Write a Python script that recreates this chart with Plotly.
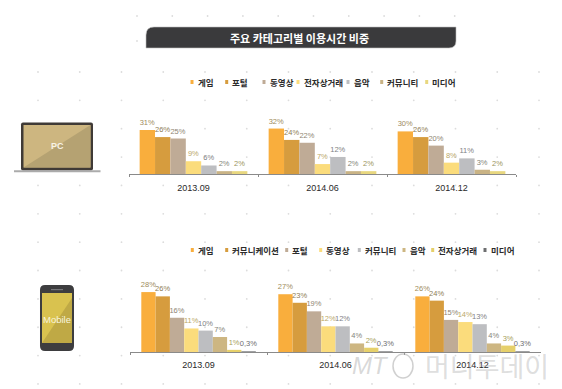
import plotly.graph_objects as go

W, H = 562, 389

periods = ["2013.09", "2014.06", "2014.12"]

pc_names = ["게임", "포털", "동영상", "전자상거래", "음악", "커뮤니티", "미디어"]
pc_game = [31, 32, 30]
pc_portal = [26, 24, 26]
pc_video = [25, 22, 20]
pc_commerce = [9, 7, 8]
pc_music = [6, 12, 11]
pc_community = [2, 2, 3]
pc_media = [2, 2, 2]
pc_values = [pc_game, pc_portal, pc_video, pc_commerce, pc_music, pc_community, pc_media]

mo_names = ["게임", "커뮤니케이션", "포털", "동영상", "커뮤니티", "음악", "전자상거래", "미디어"]
mo_game = [28, 27, 26]
mo_comm = [26, 23, 24]
mo_portal = [16, 19, 15]
mo_video = [11, 12, 14]
mo_community = [10, 12, 13]
mo_music = [7, 4, 4]
mo_commerce = [1, 2, 3]
mo_media = [0.3, 0.3, 0.3]
mo_values = [mo_game, mo_comm, mo_portal, mo_video, mo_community, mo_music, mo_commerce, mo_media]

pc_colors = ["#F9AE3D", "#D69C3E", "#BFAB96", "#FBDC7C", "#BDBEC1", "#C9B385", "#E8D77F"]
pc_label_colors = ["#A08C5C", "#8E7D55", "#8F8574", "#BBA868", "#808285", "#85857A", "#9A9560"]
mo_colors = ["#F9AE3D", "#D69C3E", "#BFAB96", "#FBDC7C", "#BDBEC1", "#CDB682", "#E6D06A", "#6D6E70"]
mo_label_colors = ["#A08C5C", "#8E7D55", "#8F8574", "#BBA868", "#808285", "#85857A", "#A8A060", "#6D6E70"]

pc_legend_x = [192, 226.7, 264, 298, 348, 381.7, 426.7]
mo_legend_x = [192.3, 226.7, 286.7, 320.7, 359.3, 404, 432.7, 485]

FONT = "Noto Sans CJK KR"
LATIN = "Liberation Sans"
CLEAR = "rgba(0,0,0,0)"


def fx(x):
    return x / W


def fy(y):
    return 1 - y / H


def path(*cmds):
    out = []
    for c in cmds:
        if isinstance(c, str):
            out.append(c)
        else:
            out.append(f"{fx(c[0]):.5f},{fy(c[1]):.5f}")
    return " ".join(out)


fig = go.Figure()

for i, (n, v) in enumerate(zip(pc_names, pc_values)):
    fig.add_bar(x=periods, y=v, name=n, marker_color=pc_colors[i],
                marker_line=dict(width=4, color=CLEAR),
                text=[f"{a}%" for a in v], textposition="outside", cliponaxis=False,
                textangle=0, constraintext="none",
                textfont=dict(size=7.5, color=pc_label_colors[i], family=LATIN),
                xaxis="x", yaxis="y", showlegend=False)
for i, (n, v) in enumerate(zip(mo_names, mo_values)):
    fig.add_bar(x=periods, y=v, name=n, marker_color=mo_colors[i],
                marker_line=dict(width=4, color=CLEAR),
                text=[f"{str(a).replace('.', ',')}%" for a in v], textposition="outside", cliponaxis=False,
                textangle=0, constraintext="none",
                textfont=dict(size=7.5, color=mo_label_colors[i], family=LATIN),
                xaxis="x2", yaxis="y2", showlegend=False)

shapes = []


def dot(x, y):
    shapes.append(dict(type="circle", xref="paper", yref="paper", layer="below",
                       x0=fx(x - 0.9), x1=fx(x + 0.9), y0=fy(y + 0.9), y1=fy(y - 0.9),
                       fillcolor="#DCDCDC", line_width=0))


for row in (16, 41):
    for k in range(10):
        dot(137 + 35.3 * k, row)
for k in range(13):
    for r in range(12):
        dot(38 + 41.75 * k, 72 + 28.36 * r)

# title bar
tx0, tx1, ty0, ty1 = 146, 456, 27, 48
shapes.append(dict(type="path", xref="paper", yref="paper", layer="below", fillcolor="#3A3A3C",
                   line=dict(color="#BDBDBD", width=0.6),
                   path=path("M", (tx0, ty1), "L", (tx0, ty0 + 8), "Q", (tx0, ty0), (tx0 + 8, ty0),
                             "L", (tx1, ty0), "L", (tx1, ty1 - 7), "Q", (tx1, ty1), (tx1 - 7, ty1), "Z")))


def rect(x0, y0, x1, y1, color):
    shapes.append(dict(type="rect", xref="paper", yref="paper", layer="below",
                       x0=fx(x0), x1=fx(x1), y0=fy(y1), y1=fy(y0), fillcolor=color, line_width=0))


def tri(a, b, c, color):
    shapes.append(dict(type="path", xref="paper", yref="paper", layer="below", fillcolor=color, line_width=0,
                       path=path("M", a, "L", b, "L", c, "Z")))


def rrect(x0, y0, x1, y1, r, color):
    shapes.append(dict(type="path", xref="paper", yref="paper", layer="below", fillcolor=color, line_width=0,
                       path=path("M", (x0 + r, y0), "L", (x1 - r, y0), "Q", (x1, y0), (x1, y0 + r),
                                 "L", (x1, y1 - r), "Q", (x1, y1), (x1 - r, y1),
                                 "L", (x0 + r, y1), "Q", (x0, y1), (x0, y1 - r),
                                 "L", (x0, y0 + r), "Q", (x0, y0), (x0 + r, y0), "Z")))


# laptop
rrect(21, 122.5, 93, 170.5, 2, "#3F3A36")
rect(23.5, 125, 90.5, 167.5, "#CDB680")
tri((23.5, 167.5), (90.5, 125), (90.5, 167.5), "#B5A272")
rect(14, 170.3, 100.5, 172.3, "#ABABAB")
# phone
rrect(40, 285, 74, 351, 5, "#3D3D3F")
rect(42, 293, 72, 343, "#D9C24F")
tri((42, 343), (72, 298), (72, 343), "#BFA945")
rect(51, 289, 63, 290.2, "#77777A")

annotations = []


def legend(names, colors, xs, y):
    for n, c, x in zip(names, colors, xs):
        rect(x - 1.5, y - 2, x + 1.5, y + 2, c)
        annotations.append(dict(text=f"<b>{n}</b>", x=fx(x + 3.5), y=fy(y), xref="paper", yref="paper",
                                xanchor="left", yanchor="middle", showarrow=False,
                                font=dict(size=8.5, color="#2B2B2B", family=FONT)))


legend(pc_names, pc_colors, pc_legend_x, 82)
legend(mo_names, mo_colors, mo_legend_x, 250)


def center_text(text, x, y, size, color, family):
    annotations.append(dict(text=text, x=fx(x), y=fy(y), xref="paper", yref="paper", showarrow=False,
                            xanchor="center", yanchor="middle",
                            font=dict(size=size, color=color, family=family)))


center_text("<b>주요 카테고리별 이용시간 비중</b>", 299.5, 38, 11, "#FFFFFF", FONT)
center_text("<b>PC</b>", 57, 146, 9, "#F7F3E6", LATIN)
center_text("Mobile", 57, 319, 9.5, "#F8F4DC", LATIN)
center_text("<i>MT</i>", 370, 365, 24, "rgba(170,170,170,0.45)", LATIN)
center_text("머니투데이", 487, 365, 27, "rgba(170,170,170,0.4)", FONT)
shapes.append(dict(type="circle", xref="paper", yref="paper", layer="above",
                   x0=fx(393), x1=fx(413), y0=fy(378), y1=fy(354), fillcolor=CLEAR,
                   line=dict(color="rgba(170,170,170,0.55)", width=1.5)))

axis_common = dict(type="category", showgrid=False, zeroline=False, showline=True, linecolor="#8A8A8A",
                   linewidth=1, ticks="outside", ticklen=2, tickcolor="#8A8A8A", tickson="boundaries",
                   tickfont=dict(size=9, color="#2A2A2A", family=LATIN), fixedrange=True)
yaxis_common = dict(visible=False, showgrid=False, zeroline=False, fixedrange=True)

fig.update_layout(
    width=W, height=H, margin=dict(l=0, r=0, t=0, b=0), autosize=False,
    paper_bgcolor="white", plot_bgcolor=CLEAR,
    barmode="group", bargap=0.165, bargroupgap=0,
    showlegend=False,
    shapes=shapes, annotations=annotations,
    xaxis=dict(domain=[fx(129), fx(516)], anchor="y", ticklabelstandoff=5, **axis_common),
    yaxis=dict(domain=[fy(174), fy(110)], anchor="x", range=[0, 64 / 1.42], **yaxis_common),
    xaxis2=dict(domain=[fx(130), fx(541)], anchor="y2", ticklabelstandoff=4, **axis_common),
    yaxis2=dict(domain=[fy(352), fy(270)], anchor="x2", range=[0, 82 / 2.14], **yaxis_common),
)

fig.write_html("out.html", config=dict(displayModeBar=False),
               post_script="document.body.style.margin='0';")
